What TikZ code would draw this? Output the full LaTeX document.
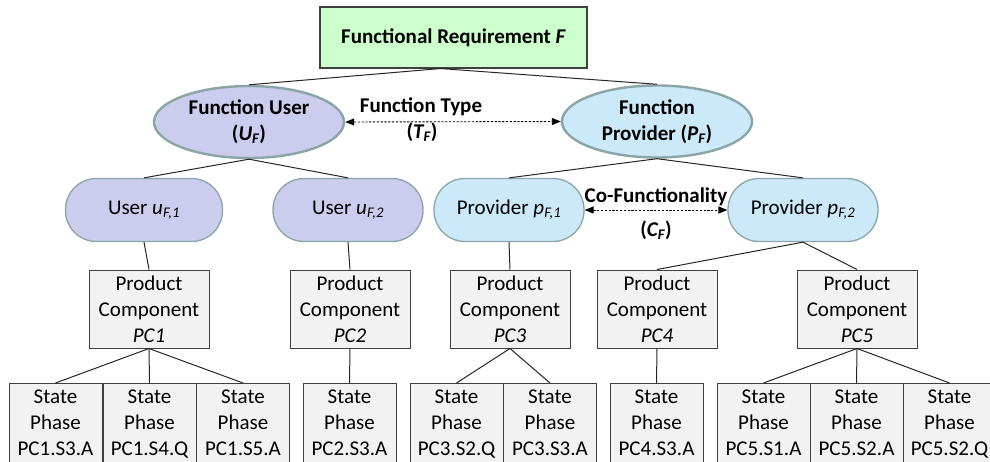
\documentclass[tikz,border=0pt]{standalone}
\usepackage{fontspec}
\setmainfont{Carlito}
\usetikzlibrary{shapes.geometric,arrows.meta}

\definecolor{reqfill}{HTML}{CCFFCC}
\definecolor{userfill}{HTML}{CCCCEE}
\definecolor{provfill}{HTML}{CCE9FA}
\definecolor{ovaledge}{HTML}{8AA5A5}
\definecolor{boxfill}{HTML}{F2F2F2}
\definecolor{boxedge}{HTML}{3F3F3F}

\newcommand\dfont{\fontsize{21}{26}\selectfont}
\newcommand\phasetext[1]{State\\Phase\\#1\rule[-16pt]{0pt}{16pt}}

\tikzset{
  reqbox/.style={draw=boxedge, fill=reqfill, line width=1.1pt,
    minimum width=267pt, minimum height=61pt, inner sep=0pt,
    font=\dfont\bfseries},
  oval/.style={ellipse, draw=ovaledge, line width=2.4pt,
    minimum width=190pt, minimum height=72pt, inner sep=0pt,
    align=center, font=\dfont\bfseries},
  pill/.style={draw=ovaledge, line width=1.3pt, rounded corners=31pt,
    minimum width=150pt, minimum height=63pt, inner sep=0pt, font=\dfont},
  userpill/.style={pill, fill=userfill},
  provpill/.style={pill, fill=provfill},
  compbox/.style={draw=boxedge, fill=boxfill, line width=1pt,
    minimum width=120pt, minimum height=78pt, inner sep=0pt,
    align=center, font=\dfont},
  phasebox/.style={draw=boxedge, fill=boxfill, line width=1pt,
    anchor=north, text width=93pt, inner xsep=0pt, inner ysep=6.5pt,
    align=center, font=\dfont},
  link/.style={draw=black!85, line width=1pt},
  duallink/.style={draw=black, line width=0.9pt, dash pattern=on 2.2pt off 1.6pt,
    {Triangle[length=9pt,width=7pt]}-{Triangle[length=9pt,width=7pt]}},
  tag/.style={inner sep=0pt, font=\dfont\bfseries}
}

\begin{document}
\begin{tikzpicture}[x=1pt,y=-1pt]
\useasboundingbox (0,0) rectangle (990,461);

% requirement and its two roles
\node[reqbox] (req) at (453.5,37.5) {Functional Requirement \textit{F}};
\node[oval, fill=userfill] (fu) at (249,122) {Function User\\(\textit{U\textsubscript{F}})};
\node[oval, fill=provfill] (fp) at (657,121.5) {Function\\Provider (\textit{P\textsubscript{F}})};

% users and providers
\node[userpill, minimum width=157pt] (u1) at (144,210) {User \textit{u\textsubscript{F,1}}};
\node[userpill] (u2) at (348,210) {User \textit{u\textsubscript{F,2}}};
\node[provpill] (p1) at (509,210) {Provider \textit{p\textsubscript{F,1}}};
\node[provpill] (p2) at (803,210) {Provider \textit{p\textsubscript{F,2}}};

% product components
\node[compbox] (pc1) at (149,309) {Product\\Component\\\textit{PC1}};
\node[compbox] (pc2) at (350,309) {Product\\Component\\\textit{PC2}};
\node[compbox] (pc3) at (510,309) {Product\\Component\\\textit{PC3}};
\node[compbox] (pc4) at (657,309) {Product\\Component\\\textit{PC4}};
\node[compbox] (pc5) at (857,309) {Product\\Component\\\textit{PC5}};

% state phases
\node[phasebox] (s11) at (55.5,383)  {\phasetext{PC1.S3.A}};
\node[phasebox] (s12) at (149.5,383) {\phasetext{PC1.S4.Q}};
\node[phasebox] (s13) at (243,383)   {\phasetext{PC1.S5.A}};
\node[phasebox] (s21) at (349.5,383) {\phasetext{PC2.S3.A}};
\node[phasebox] (s31) at (456.5,383) {\phasetext{PC3.S2.Q}};
\node[phasebox] (s32) at (550,383)   {\phasetext{PC3.S3.A}};
\node[phasebox] (s41) at (656.5,383) {\phasetext{PC4.S3.A}};
\node[phasebox] (s51) at (763.5,383) {\phasetext{PC5.S1.A}};
\node[phasebox] (s52) at (856.5,383) {\phasetext{PC5.S2.A}};
\node[phasebox] (s53) at (949.5,383) {\phasetext{PC5.S2.Q}};

% tree links
\draw[link] ([xshift=-13pt]req.south) -- (fu.north);
\draw[link] ([xshift=-13pt]req.south) -- (fp.north);
\draw[link] (fu.south) -- (u1.north);
\draw[link] (fu.south) -- (u2.north);
\draw[link] (fp.south) -- (p1.north);
\draw[link] (fp.south) -- (p2.north);
\draw[link] (u1.south) -- (pc1.north);
\draw[link] (u2.south) -- (pc2.north);
\draw[link] (p1.south) -- (pc3.north);
\draw[link] (p2.south) -- (pc4.north);
\draw[link] (p2.south) -- (pc5.north);
\draw[link] (pc1.south) -- (s11.north);
\draw[link] (pc1.south) -- (s12.north);
\draw[link] (pc1.south) -- (s13.north);
\draw[link] (pc2.south) -- (s21.north);
\draw[link] (pc3.south) -- (s31.north);
\draw[link] (pc3.south) -- (s32.north);
\draw[link] (pc4.south) -- (s41.north);
\draw[link] (pc5.south) -- (s51.north);
\draw[link] (pc5.south) -- (s52.north);
\draw[link] (pc5.south) -- (s53.north);

% relations between siblings
\draw[duallink] (fu.east) -- (fp.west);
\node[tag] (typelbl) at (421,107) {Function Type};
\node[tag] (typesym) at (422,132) {(\textit{T\textsubscript{F}})};
\draw[duallink] (p1.east) -- (p2.west);
\node[tag] (colbl) at (656,197) {Co-Functionality};
\node[tag] (cosym) at (656,230) {(\textit{C\textsubscript{F}})};
\end{tikzpicture}
\end{document}
